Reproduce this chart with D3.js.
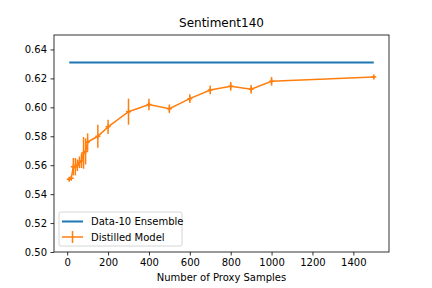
<!DOCTYPE html>
<html>
<head>
<meta charset="utf-8">
<title>Sentiment140</title>
<script src="https://d3js.org/d3.v7.min.js"></script>
<style>
  body { margin: 0; background: #fff; }
  text { font-family: "DejaVu Sans", sans-serif; fill: #000; }
</style>
</head>
<body>
<svg id="chart" width="432" height="288"></svg>
<script>
"use strict";

// data
const proxySamples = [10, 20, 30, 40, 50, 60, 70, 80, 90, 100, 150, 200, 300, 400, 500, 600, 700, 800, 900, 1000, 1500];
const distilledMean = [0.5503, 0.551, 0.559, 0.559, 0.560, 0.562, 0.563, 0.5685, 0.5695, 0.576, 0.580, 0.5865, 0.597, 0.602, 0.599, 0.606, 0.612, 0.6145, 0.6125, 0.618, 0.621];
const distilledErr = [0.001, 0.001, 0.006, 0.006, 0.004, 0.004, 0.005, 0.011, 0.009, 0.006, 0.008, 0.005, 0.009, 0.004, 0.003, 0.003, 0.003, 0.003, 0.003, 0.003, 0.001];
const ensembleValue = 0.631;
const xTicks = [0, 200, 400, 600, 800, 1000, 1200, 1400];
const yTicks = [0.50, 0.52, 0.54, 0.56, 0.58, 0.60, 0.62, 0.64];
const legendLabels = ["Data-10 Ensemble", "Distilled Model"];

const blue = "#1f77b4", orange = "#ff7f0e";
const svg = d3.select("#chart");
const margin = { top: 35, right: 43, bottom: 36, left: 54 };
const width = +svg.attr("width") - margin.left - margin.right;
const height = +svg.attr("height") - margin.top - margin.bottom;

const xScale = d3.scaleLinear().domain([-64.5, 1574.5]).range([0, width]);
const yScale = d3.scaleLinear().domain([0.50, 0.65]).range([height, 0]);

const g = svg.append("g").attr("transform", `translate(${margin.left},${margin.top})`);

// axes
const xAxis = g.append("g").attr("transform", `translate(0,${height})`)
    .call(d3.axisBottom(xScale).tickValues(xTicks).tickSize(3.5).tickPadding(3.5).tickFormat(d3.format("d")));
const yAxis = g.append("g")
    .call(d3.axisLeft(yScale).tickValues(yTicks).tickSize(3.5).tickPadding(3.5).tickFormat(d3.format(".2f")));
[xAxis, yAxis].forEach(a => {
    a.select(".domain").remove();
    a.selectAll("line").attr("stroke", "#000").attr("stroke-width", 0.8);
    a.selectAll("text").attr("font-size", 10).attr("font-family", "DejaVu Sans");
});

// ensemble line
g.append("line")
    .attr("x1", xScale(proxySamples[0])).attr("x2", xScale(proxySamples[proxySamples.length - 1]))
    .attr("y1", yScale(ensembleValue)).attr("y2", yScale(ensembleValue))
    .attr("stroke", blue).attr("stroke-width", 2);

// distilled model line with error bars
const pts = proxySamples.map((x, i) => ({ x, y: distilledMean[i], e: distilledErr[i] }));
g.append("path").datum(pts)
    .attr("fill", "none").attr("stroke", orange).attr("stroke-width", 1.5)
    .attr("d", d3.line().x(d => xScale(d.x)).y(d => yScale(d.y)));
g.selectAll(".err").data(pts).enter().append("line")
    .attr("x1", d => xScale(d.x)).attr("x2", d => xScale(d.x))
    .attr("y1", d => yScale(d.y - d.e)).attr("y2", d => yScale(d.y + d.e))
    .attr("stroke", orange).attr("stroke-width", 1.5);
g.selectAll(".mk").data(pts).enter().append("path")
    .attr("transform", d => `translate(${xScale(d.x)},${yScale(d.y)})`)
    .attr("d", "M-2.5,0H2.5M0,-2.5V2.5")
    .attr("stroke", orange).attr("stroke-width", 1.5);

// frame
g.append("rect").attr("width", width).attr("height", height)
    .attr("fill", "none").attr("stroke", "#000").attr("stroke-width", 0.8);

// title and label
svg.append("text").attr("x", margin.left + width / 2).attr("y", 27)
    .attr("text-anchor", "middle").attr("font-size", 12).text("Sentiment140");
svg.append("text").attr("x", margin.left + width / 2).attr("y", 281)
    .attr("text-anchor", "middle").attr("font-size", 10).text("Number of Proxy Samples");

// legend
const lg = g.append("g").attr("transform", "translate(5,177)");
lg.append("rect").attr("width", 123).attr("height", 34).attr("rx", 2)
    .attr("fill", "#fff").attr("fill-opacity", 0.8).attr("stroke", "#ccc").attr("stroke-width", 0.8);
lg.append("line").attr("x1", 3).attr("x2", 24).attr("y1", 9.5).attr("y2", 9.5)
    .attr("stroke", blue).attr("stroke-width", 2);
lg.append("line").attr("x1", 3).attr("x2", 24).attr("y1", 25).attr("y2", 25)
    .attr("stroke", orange).attr("stroke-width", 1.5);
lg.append("line").attr("x1", 13.5).attr("x2", 13.5).attr("y1", 19).attr("y2", 31)
    .attr("stroke", orange).attr("stroke-width", 1.5);
lg.selectAll(".lt").data(legendLabels).enter().append("text")
    .attr("x", 32).attr("y", (d, i) => 13 + i * 15.5)
    .attr("font-size", 10).text(d => d);
</script>
</body>
</html>
